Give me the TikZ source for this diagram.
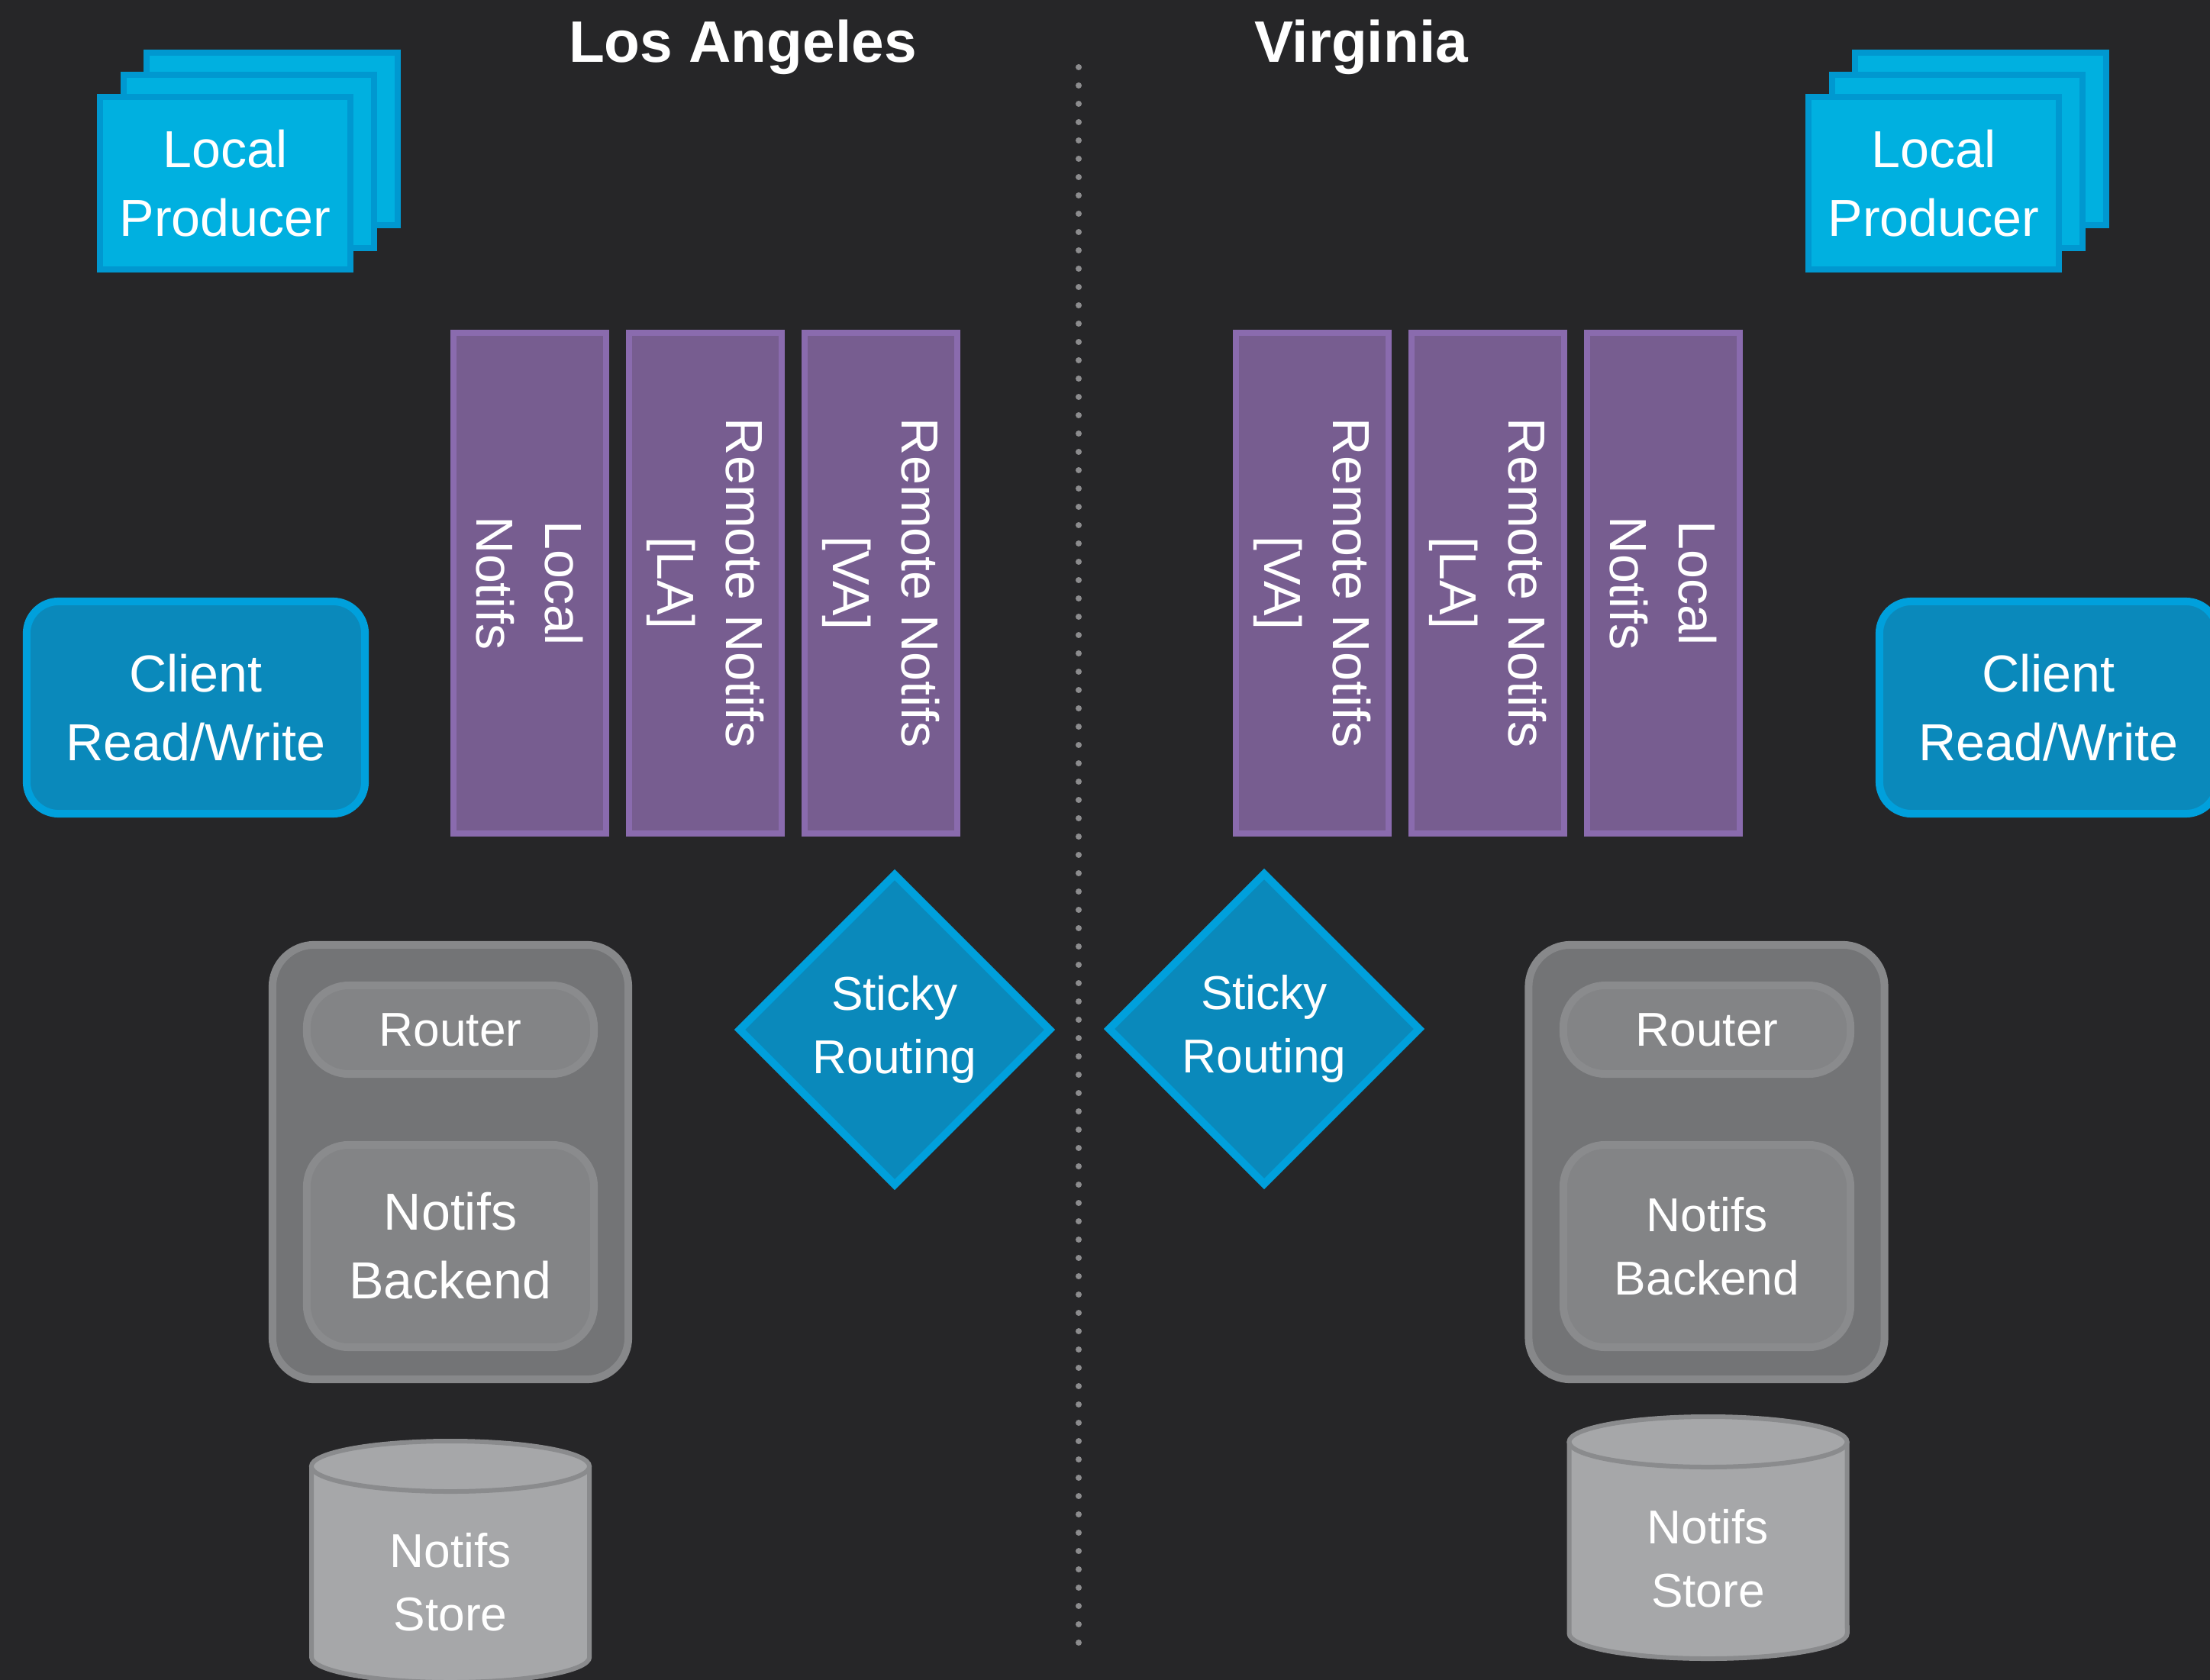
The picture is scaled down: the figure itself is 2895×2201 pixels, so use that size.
\documentclass[tikz,border=0pt]{standalone}
\usepackage{fontspec}
\setmainfont{Liberation Sans}
\usepackage{tikz}
\usetikzlibrary{positioning}
\usetikzlibrary{shapes.geometric}

\definecolor{bgdark}{HTML}{262628}
\definecolor{dotgray}{HTML}{8C8C8E}
\definecolor{prodfill}{HTML}{00B0E0}
\definecolor{prodedge}{HTML}{0098D0}
\definecolor{clientfill}{HTML}{0A89BB}
\definecolor{clientedge}{HTML}{00A0DC}
\definecolor{queuefill}{HTML}{775D90}
\definecolor{queueedge}{HTML}{8A6BAE}
\definecolor{hostfill}{HTML}{737476}
\definecolor{hostedge}{HTML}{87888A}
\definecolor{partfill}{HTML}{838486}
\definecolor{partedge}{HTML}{8A8B8D}
\definecolor{storefill}{HTML}{A6A7A9}
\definecolor{storeedge}{HTML}{8A8B8D}

\tikzset{
	txt/.style={text=white, align=center, inner sep=0pt, font=\fontsize{19.4pt}{25.6pt}\selectfont},
	smalltxt/.style={txt, font=\fontsize{17.7pt}{23.6pt}\selectfont},
	title/.style={text=white, inner sep=0pt, anchor=base, font=\bfseries\fontsize{21.8pt}{26pt}\selectfont},
	producer/.style={txt, draw=prodedge, fill=prodfill, line width=0.08cm, minimum width=3.28cm, minimum height=2.26cm},
	client/.style={txt, draw=clientedge, fill=clientfill, line width=0.1cm, rounded corners=0.42cm, minimum width=4.43cm, minimum height=2.78cm},
	queue/.style={txt, draw=queueedge, fill=queuefill, line width=0.08cm, rotate=-90, minimum width=6.56cm, minimum height=2.0cm},
	sticky/.style={smalltxt, diamond, aspect=1, draw=clientedge, fill=clientfill, line width=0.1cm, minimum width=4.1cm, minimum height=4.1cm},
	hostbox/.style={draw=hostedge, fill=hostfill, line width=0.1cm, rounded corners=0.55cm, minimum width=4.66cm, minimum height=5.69cm},
	part/.style={txt, draw=partedge, fill=partfill, line width=0.1cm, rounded corners=0.55cm, minimum width=3.76cm},
	store/.style={draw=storeedge, fill=storefill, line width=0.06cm},
}

\begin{document}
\begin{tikzpicture}[x=0.01cm, y=-0.01cm]
	\fill[bgdark] (0,0) rectangle (2895,2201);
	\useasboundingbox (0,0) rectangle (2895,2201);

	\node[title] (la) at (973,82) {Los Angeles};
	\node[title] (va) at (1783,82) {Virginia};

	% divider
	\foreach \k in {0,...,86}
		\fill[dotgray] (1413,88+24*\k) circle (0.04cm);

	% producers
	\node[producer] (prodLA3) at (356.5,182) {};
	\node[producer] (prodLA2) at (326,211.5) {};
	\node[producer] (prodLA) at (295,240) {Local\\Producer};
	\node[producer] (prodVA3) at (2594.5,182) {};
	\node[producer] (prodVA2) at (2564,211.5) {};
	\node[producer] (prodVA) at (2533,240) {Local\\Producer};

	% clients
	\node[client] (clientLA) at (256.5,927) {Client\\Read/Write};
	\node[client] (clientVA) at (2683.5,927) {Client\\Read/Write};

	% queues
	\node[queue] (localLA) at (694,764) {Local\\Notifs};
	\node[queue] (remoteLAla) at (924,764) {Remote Notifs\\{[LA]}};
	\node[queue] (remoteVAla) at (1154,764) {Remote Notifs\\{[VA]}};
	\node[queue] (remoteVAva) at (1719,764) {Remote Notifs\\{[VA]}};
	\node[queue] (remoteLAva) at (1949,764) {Remote Notifs\\{[LA]}};
	\node[queue] (localVA) at (2179,764) {Local\\Notifs};

	% sticky routing
	\node[sticky] (stickyLA) at (1172,1349) {Sticky\\Routing};
	\node[sticky] (stickyVA) at (1656,1348) {Sticky\\Routing};

	% hosts
	\node[hostbox] (hostLA) at (590,1522.5) {};
	\node[part, minimum height=1.16cm, smalltxt] (routerLA) at (590,1349) {Router};
	\node[part, minimum height=2.65cm] (backendLA) at (590,1632.5) {Notifs\\Backend};
	\node[hostbox] (hostVA) at (2235.5,1522.5) {};
	\node[part, minimum height=1.16cm, smalltxt] (routerVA) at (2236,1349) {Router};
	\node[part, minimum height=2.65cm, smalltxt] (backendVA) at (2236,1632.5) {Notifs\\Backend};

	% stores
	\draw[store] (408,1921) -- (408,2171) arc[start angle=180, end angle=360, x radius=1.82cm, y radius=0.33cm] -- (772,1921);
	\draw[store] (590,1921) ellipse [x radius=1.82cm, y radius=0.33cm];
	\node[smalltxt] (storeLA) at (590,2073) {Notifs\\Store};
	\draw[store] (2055.5,1889) -- (2055.5,2140) arc[start angle=180, end angle=360, x radius=1.82cm, y radius=0.33cm] -- (2419.5,1889);
	\draw[store] (2237.5,1889) ellipse [x radius=1.82cm, y radius=0.33cm];
	\node[smalltxt] (storeVA) at (2237.5,2042) {Notifs\\Store};
\end{tikzpicture}
\end{document}
